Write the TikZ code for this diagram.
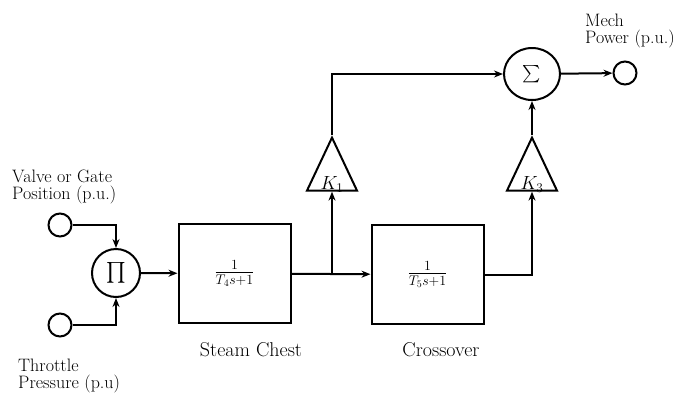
\documentclass[tikz,border=0pt]{standalone}
\usepackage{fix-cm}
\usepackage{amsmath}
\usetikzlibrary{shapes.geometric,arrows.meta}

\tikzset{
  wire/.style={line width=2pt,-{Stealth[length=9pt,width=7pt]}},
  blockbox/.style={draw,line width=2pt,minimum width=112pt,minimum height=99pt,inner sep=0pt},
  port/.style={draw,circle,line width=2pt,minimum size=23pt,inner sep=0pt},
  opnode/.style={draw,circle,line width=2pt,minimum size=48pt,inner sep=0pt},
  sumnode/.style={draw,ellipse,line width=2pt,minimum width=56pt,minimum height=52pt,inner sep=0pt},
  gain/.style={draw,isosceles triangle,isosceles triangle stretches,shape border rotate=90,
    line width=2pt,minimum width=50pt,minimum height=53pt,inner sep=0pt},
  lbl/.style={font=\fontsize{18}{17}\selectfont,align=left,inner sep=0pt},
  stagelbl/.style={font=\fontsize{20}{18}\selectfont,inner sep=0pt},
  mathlbl/.style={font=\fontsize{20}{18}\selectfont,inner sep=0pt}
}

\begin{document}
\begin{tikzpicture}[x=1pt,y=-1pt]
\path[use as bounding box,fill=white] (0,0) rectangle (686,394);

% inputs and multiplier
\node[port] (valve) at (60,225) {};
\node[port] (throttle) at (60,325) {};
\node[opnode,font=\fontsize{21}{21}\selectfont] (prod) at (116,273) {$\prod$};

% turbine stages
\node[blockbox,mathlbl] (chest) at (234.5,273.5) {$\frac{1}{T_4s+1}$};
\node[blockbox,mathlbl] (cross) at (427.5,274.5) {$\frac{1}{T_5s+1}$};
\coordinate (tap) at (332,273);

% gains and summation
\node[gain,anchor=apex] (k1) at (332,135) {};
\node[gain,anchor=apex] (k3) at (532,135) {};
\node[mathlbl,font=\fontsize{19}{18}\selectfont,anchor=south] (k1txt) at ([yshift=-1pt]k1.south) {$K_1$};
\node[mathlbl,font=\fontsize{19}{18}\selectfont,anchor=south] (k3txt) at ([yshift=-1pt]k3.south) {$K_3$};
\node[sumnode,font=\fontsize{18}{18}\selectfont] (sum) at (532,74) {$\sum$};
\node[port] (mech) at (625,73) {};

% labels
\node[lbl,anchor=west] (valvetxt) at (12,187) {Valve or Gate\\Position (p.u.)};
\node[lbl,anchor=west] (throttletxt) at (18,376) {Throttle\\Pressure (p.u)};
\node[stagelbl] (chesttxt) at (251,350) {Steam Chest};
\node[stagelbl] (crosstxt) at (441,350) {Crossover};
\node[lbl,anchor=west] (mechtxt) at (585,31) {Mech\\Power (p.u.)};

% signal flow
\draw[wire] (valve) -| (prod.north);
\draw[wire] (throttle) -| (prod.south);
\draw[wire] (prod) -- (chest);
\draw[wire] (chest) -- (cross);
\draw[wire] (tap) -- (k1.south);
\draw[wire] (k1.apex) |- (sum.west);
\draw[wire] (cross.east) -| (k3.south);
\draw[wire] (k3.apex) -- (sum.south);
\draw[wire] (sum) -- (mech);
\end{tikzpicture}
\end{document}
